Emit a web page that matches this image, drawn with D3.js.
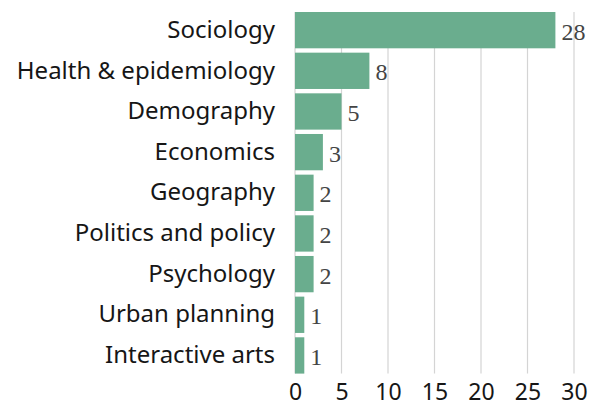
<!DOCTYPE html>
<html><head><meta charset="utf-8">
<script src="https://cdn.jsdelivr.net/npm/d3@7"></script>
<style>body{margin:0;background:#fff}svg{display:block}</style>
</head><body>
<script>
const categories = ["Sociology","Health & epidemiology","Demography","Economics","Geography","Politics and policy","Psychology","Urban planning","Interactive arts"];
const values = [28,8,5,3,2,2,2,1,1];
const tickValues = [0,5,10,15,20,25,30];

const W=590,H=405;
const svg=d3.select("body").append("svg").attr("width",W).attr("height",H);
const x=d3.scaleLinear().domain([0,30]).range([295,574]);
const y=d3.scaleBand().domain(categories).range([12,373.6]).paddingInner(0.107).paddingOuter(0);

svg.append("g").selectAll("line").data(tickValues).join("line")
  .attr("x1",d=>x(d)).attr("x2",d=>x(d)).attr("y1",12).attr("y2",373.6)
  .attr("stroke","#d4d4d4").attr("stroke-width",1.2);

svg.append("g").selectAll("rect").data(values).join("rect")
  .attr("x",x(0)).attr("y",(d,i)=>y(categories[i]))
  .attr("width",d=>x(d)-x(0)).attr("height",y.bandwidth())
  .attr("fill","#6aad8e");

svg.append("g").selectAll("text").data(values).join("text")
  .attr("x",d=>x(d)+6).attr("y",(d,i)=>y(categories[i])+y.bandwidth()/2+9.5)
  .attr("font-family","Liberation Serif, serif").attr("font-size",24).attr("fill","#444")
  .text(d=>d);

const yAxis=d3.axisLeft(y).tickSize(0).tickPadding(20);
const gy=svg.append("g").attr("transform",`translate(${x(0)},0)`).call(yAxis);
gy.select(".domain").remove();
gy.selectAll("text").attr("font-family","Noto Sans, sans-serif").attr("font-size",24).attr("fill","#161616");

const xAxis=d3.axisBottom(x).tickValues(tickValues).tickSize(0).tickPadding(4);
const gx=svg.append("g").attr("transform",`translate(0,380)`).call(xAxis);
gx.select(".domain").remove();
gx.selectAll("text").attr("font-family","Noto Sans, sans-serif").attr("font-size",23).attr("fill","#161616");
</script>
</body></html>
